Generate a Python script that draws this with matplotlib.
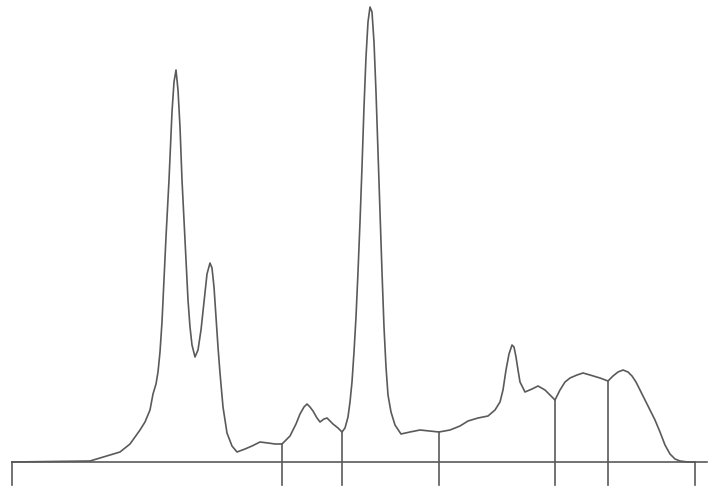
import numpy as np
import matplotlib.pyplot as plt

# densitometry scan: position along the strip and trace height above baseline
pos = [12, 90, 100, 110, 120, 130, 140, 145, 150, 153, 156, 158, 160, 162, 164, 166,
       169, 172, 174, 176, 178, 180, 182, 185, 188, 190, 192, 195, 198, 201, 204, 207,
       210, 212, 214, 216, 218, 220, 223, 227, 232, 237, 245, 252, 260, 268, 275, 282,
       290, 296, 300, 304, 307, 310, 313, 317, 320, 324, 327, 330, 333, 338, 342, 345,
       348, 350, 352, 354, 356, 358, 360, 362, 364, 366, 368, 370, 372, 374, 376, 378,
       380, 382, 384, 386, 388, 391, 395, 401, 410, 420, 430, 439, 450, 460, 468, 478,
       488, 495, 500, 503, 506, 509, 512, 514, 516, 518, 520, 525, 532, 538, 545, 550,
       555, 560, 565, 570, 577, 583, 590, 600, 608, 613, 618, 623, 628, 632, 636, 640,
       645, 650, 655, 660, 665, 670, 675, 680, 688, 695]
height = [0, 1, 4, 7, 10, 18, 32, 40, 52, 68, 78, 90, 110, 140, 182, 225, 282, 350,
          380, 392, 372, 335, 282, 222, 162, 135, 117, 105, 112, 132, 160, 188, 199, 194,
          175, 145, 115, 89, 55, 29, 16, 10, 13, 16, 20, 19, 18, 18, 26, 38, 48, 55, 58,
          55, 51, 44, 40, 43, 44, 41, 38, 34, 30, 34, 45, 60, 80, 110, 145, 190, 240,
          295, 355, 405, 440, 455, 450, 420, 370, 310, 250, 190, 135, 95, 67, 50, 37, 28,
          30, 32, 31, 30, 32, 36, 41, 44, 46, 52, 60, 72, 92, 108, 117, 115, 105, 92, 80,
          70, 73, 76, 72, 67, 62, 72, 80, 84, 87, 89, 87, 84, 81, 86, 90, 92, 90, 86, 80,
          72, 62, 52, 42, 30, 17, 8, 3, 1, 0, 0]

# fraction boundaries
cuts = [282, 342, 439, 555, 608]

gray = '#5a5a5a'

fig = plt.figure(figsize=(7.2, 4.95), dpi=100)
ax = fig.add_axes([0, 0, 1, 1])
ax.set_xlim(0, 720)
ax.set_ylim(-33, 462)
ax.axis('off')

ax.plot(pos, height, color=gray, lw=1.2)
ax.plot([12, 707], [0, 0], color=gray, lw=1.2)

# end ticks
for x in [12, 695]:
    ax.plot([x, x], [0, -23], color=gray, lw=1.2)

# dividers drop from the trace to below the baseline
for x in cuts:
    top = np.interp(x, pos, height)
    ax.plot([x, x], [top, -23], color=gray, lw=1.2)

fig.savefig('out.png', dpi=100, facecolor='white')
